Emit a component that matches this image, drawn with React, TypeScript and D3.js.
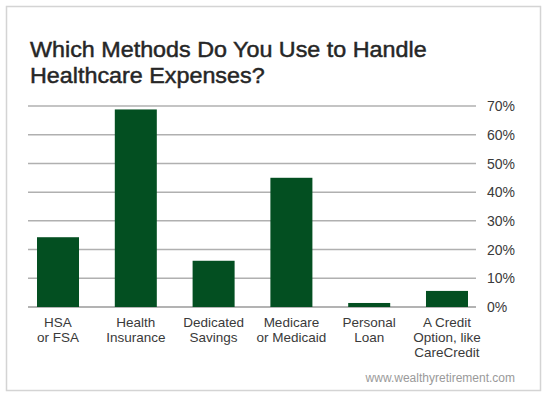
import React from "react";
import { scaleBand, scaleLinear } from "d3";

const categories = [
  ["HSA", "or FSA"],
  ["Health", "Insurance"],
  ["Dedicated", "Savings"],
  ["Medicare", "or Medicaid"],
  ["Personal", "Loan"],
  ["A Credit", "Option, like", "CareCredit"],
];
const values = [24.3, 68.8, 16.1, 45, 1.4, 5.6];
const yTicks = [0, 10, 20, 30, 40, 50, 60, 70];
const titleLines = ["Which Methods Do You Use to Handle", "Healthcare Expenses?"];
const source = "www.wealthyretirement.com";

const W = 550;
const H = 397;
const font = "'Liberation Sans', Arial, Helvetica, sans-serif";

export default function App() {
  const x = scaleBand<number>()
    .domain(categories.map((_, i) => i))
    .range([30, 475])
    .paddingInner(0.46)
    .paddingOuter(0.09);

  const y = scaleLinear().domain([0, 70]).range([307, 106]);

  return (
    <svg
      width={W}
      height={H}
      style={{ position: "absolute", left: 0, top: 0, background: "#fff" }}
    >
      <rect x={6.5} y={6.5} width={534} height={384} fill="#fff" stroke="#d4d4d4" strokeWidth={1.5} />

      {/* title: stretched a little to match the wider Helvetica Medium */}
      <g transform="translate(30,0) scale(1.085,1)">
        {titleLines.map((t, i) => (
          <text
            key={i}
            x={0}
            y={57.5 + i * 26}
            fontFamily={font}
            fontSize={21.5}
            fill="#262626"
            stroke="#262626"
            strokeWidth={0.45}
          >
            {t}
          </text>
        ))}
      </g>

      {yTicks.map((t) => (
        <g key={t}>
          <line
            x1={28}
            x2={476}
            y1={y(t)}
            y2={y(t)}
            stroke={t === 0 ? "#9a9a9a" : "#b0b0b0"}
            strokeWidth={1.5}
          />
          <text
            x={487}
            y={y(t)}
            dy="0.1em"
            fontFamily={font}
            fontSize={14}
            fill="#3a3a3a"
            dominantBaseline="middle"
          >
            {t}%
          </text>
        </g>
      ))}

      {values.map((v, i) => (
        <rect
          key={i}
          x={x(i)}
          y={y(v)}
          width={x.bandwidth()}
          height={y(0) - y(v)}
          fill="#034f21"
        />
      ))}

      {categories.map((lines, i) =>
        lines.map((l, j) => (
          <text
            key={i + "-" + j}
            x={(x(i) ?? 0) + x.bandwidth() / 2}
            y={326.5 + j * 15}
            textAnchor="middle"
            fontFamily={font}
            fontSize={13.5}
            fill="#3a3a3a"
          >
            {l}
          </text>
        ))
      )}

      <text
        x={515}
        y={381.5}
        textAnchor="end"
        fontFamily={font}
        fontSize={12}
        fill="#9a9a9a"
      >
        {source}
      </text>
    </svg>
  );
}
